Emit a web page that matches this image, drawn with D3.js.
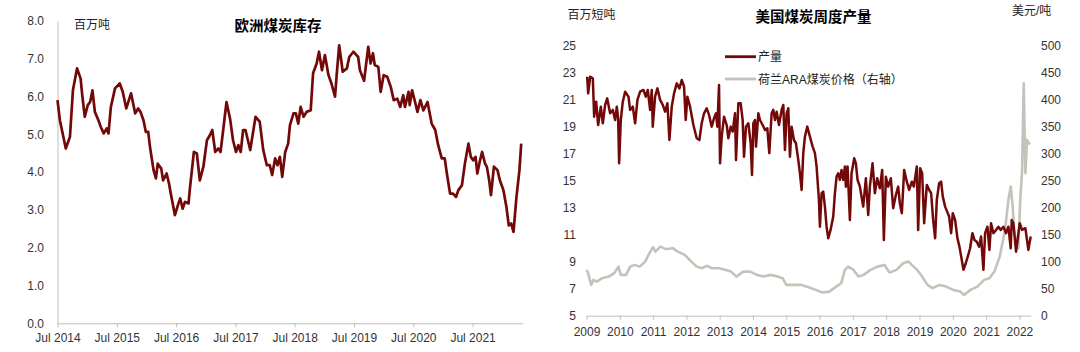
<!DOCTYPE html>
<html>
<head>
<meta charset="utf-8">
<script src="https://cdn.jsdelivr.net/npm/d3@7"></script>
<style>
  body { margin: 0; background: #fff; }
  text { font-family: "Liberation Sans", Arial, "Noto Sans CJK SC", sans-serif; }
</style>
</head>
<body>
<div id="chart"></div>
<script>
// ---------- left: European coal stocks (million t), dates as decimal years ----------
var stockYears = [2014.50,2014.54,2014.64,2014.71,2014.76,2014.83,2014.89,2014.92,2014.96,2015.01,
  2015.05,2015.09,2015.13,2015.19,2015.23,2015.28,2015.33,2015.36,2015.40,2015.47,
  2015.55,2015.60,2015.66,2015.74,2015.81,2015.86,2015.90,2015.95,2015.99,2016.03,
  2016.06,2016.12,2016.16,2016.19,2016.25,2016.28,2016.34,2016.38,2016.41,2016.48,
  2016.54,2016.57,2016.61,2016.65,2016.71,2016.73,2016.80,2016.85,2016.90,2016.96,
  2017.02,2017.07,2017.11,2017.16,2017.21,2017.25,2017.30,2017.35,2017.41,2017.46,
  2017.51,2017.55,2017.59,2017.63,2017.67,2017.75,2017.84,2017.91,2017.97,2018.03,
  2018.08,2018.12,2018.17,2018.21,2018.25,2018.29,2018.34,2018.39,2018.42,2018.48,
  2018.52,2018.56,2018.60,2018.65,2018.70,2018.77,2018.81,2018.87,2018.91,2018.96,
  2019.01,2019.07,2019.12,2019.18,2019.21,2019.25,2019.31,2019.38,2019.42,2019.49,
  2019.57,2019.60,2019.67,2019.74,2019.78,2019.82,2019.85,2019.91,2019.95,2020.00,
  2020.06,2020.12,2020.17,2020.23,2020.28,2020.33,2020.36,2020.42,2020.44,2020.48,
  2020.53,2020.57,2020.62,2020.67,2020.74,2020.81,2020.87,2020.92,2020.98,2021.03,
  2021.07,2021.12,2021.17,2021.22,2021.26,2021.32,2021.37,2021.43,2021.47,2021.51,
  2021.55,2021.58,2021.62,2021.66,2021.71,2021.74,2021.78,2021.81,2021.86,2021.92,
  2021.96,2022.02,2022.07,2022.11,2022.15,2022.19,2022.24,2022.29,2022.32];
var stockValues = [5.90,5.37,4.62,4.93,6.16,6.74,6.47,5.99,5.46,5.77,
  5.85,6.16,5.59,5.37,5.19,5.02,5.15,5.02,5.72,6.21,
  6.34,6.12,5.68,6.08,5.55,5.68,5.59,5.37,5.06,5.06,
  4.66,4.05,3.83,4.22,4.09,3.78,3.96,3.70,3.43,2.86,
  3.17,3.30,3.03,3.21,3.17,3.52,4.53,4.49,3.78,4.14,
  4.84,4.97,5.11,4.53,4.62,4.53,5.19,5.85,5.41,4.84,
  4.53,4.71,4.53,5.11,5.11,4.58,5.46,5.33,4.58,4.18,
  4.18,3.92,4.36,4.18,4.40,3.87,4.53,4.75,5.24,5.55,
  5.55,5.28,5.72,5.46,5.59,5.63,6.61,6.87,7.18,6.69,
  7.09,6.56,6.34,5.99,6.61,7.35,6.65,6.74,7.04,7.18,
  7.04,6.69,6.41,7.31,6.87,7.14,6.83,6.78,6.12,6.56,
  6.52,6.25,5.90,5.94,5.72,6.03,5.72,6.12,5.77,6.16,
  5.85,5.59,5.90,5.63,5.85,5.28,5.11,4.71,4.36,4.36,
  3.92,3.43,3.43,3.34,3.52,3.65,4.22,4.75,4.40,4.31,
  4.40,3.96,4.27,4.53,4.22,4.14,3.78,3.39,4.14,4.05,
  3.78,3.52,3.08,2.59,2.64,2.42,3.34,4.05,4.75];
var stockTickYears = [2014.5,2015.5,2016.5,2017.5,2018.5,2019.5,2020.5,2021.5];
var stockTickLabels = ["Jul 2014","Jul 2015","Jul 2016","Jul 2017","Jul 2018","Jul 2019","Jul 2020","Jul 2021"];
var stockYTicks = [0,1,2,3,4,5,6,7,8];

// ---------- right: US weekly coal output (million short t) and ARA price (USD/t) ----------
var prodYears = [2009.02,2009.05,2009.11,2009.19,2009.23,2009.29,2009.35,2009.43,2009.49,2009.56,
  2009.62,2009.71,2009.79,2009.86,2009.91,2009.95,2009.98,2010.03,2010.09,2010.16,
  2010.26,2010.31,2010.39,2010.46,2010.53,2010.61,2010.71,2010.78,2010.84,2010.91,
  2010.96,2010.99,2011.06,2011.13,2011.21,2011.29,2011.36,2011.43,2011.49,2011.56,
  2011.63,2011.71,2011.79,2011.86,2011.93,2011.98,2012.03,2012.11,2012.21,2012.31,
  2012.39,2012.46,2012.53,2012.61,2012.68,2012.76,2012.83,2012.89,2012.93,2012.98,
  2013.01,2013.06,2013.13,2013.21,2013.26,2013.33,2013.39,2013.46,2013.49,2013.56,
  2013.63,2013.69,2013.73,2013.79,2013.86,2013.93,2013.97,2014.01,2014.06,2014.09,
  2014.16,2014.21,2014.29,2014.36,2014.43,2014.49,2014.56,2014.61,2014.66,2014.71,
  2014.78,2014.86,2014.91,2014.96,2015.01,2015.06,2015.11,2015.16,2015.23,2015.29,
  2015.36,2015.41,2015.46,2015.51,2015.56,2015.63,2015.71,2015.79,2015.86,2015.91,
  2015.98,2016.01,2016.06,2016.11,2016.16,2016.21,2016.26,2016.33,2016.41,2016.46,
  2016.51,2016.56,2016.61,2016.66,2016.71,2016.76,2016.79,2016.84,2016.91,2016.96,
  2017.04,2017.09,2017.14,2017.21,2017.31,2017.39,2017.46,2017.51,2017.59,2017.66,
  2017.73,2017.81,2017.88,2017.93,2017.99,2018.06,2018.14,2018.21,2018.29,2018.36,
  2018.41,2018.47,2018.54,2018.62,2018.69,2018.77,2018.83,2018.92,2018.96,2019.02,
  2019.08,2019.14,2019.22,2019.29,2019.35,2019.41,2019.47,2019.52,2019.59,2019.65,
  2019.70,2019.77,2019.83,2019.89,2019.95,2020.00,2020.07,2020.14,2020.20,2020.27,
  2020.32,2020.39,2020.45,2020.52,2020.59,2020.65,2020.72,2020.79,2020.85,2020.92,
  2020.97,2021.04,2021.10,2021.15,2021.22,2021.30,2021.37,2021.44,2021.52,2021.60,
  2021.67,2021.74,2021.77,2021.82,2021.90,2022.01,2022.08,2022.18,2022.27,2022.34];
var prodValues = [22.72,21.49,22.72,22.60,19.76,20.87,19.14,20.50,19.27,20.63,
  21.12,20.01,20.26,19.51,20.50,19.64,16.30,19.51,20.87,21.61,
  21.24,20.26,20.50,19.27,21.00,21.61,21.74,21.24,21.74,20.26,
  21.74,19.02,21.24,21.86,21.00,20.63,20.13,20.75,18.03,20.50,
  21.49,22.23,21.86,22.48,21.98,19.51,21.24,20.50,19.14,18.16,
  18.03,19.27,20.01,20.38,19.89,19.02,19.64,20.01,19.02,22.11,
  16.30,18.28,19.76,19.14,18.16,19.02,18.65,20.01,16.55,20.75,
  20.75,19.51,16.79,19.02,19.27,17.79,15.44,19.27,19.51,17.54,
  20.01,19.51,19.14,18.77,18.90,17.05,20.01,20.26,19.51,20.13,
  19.14,20.26,20.63,17.29,20.01,20.38,16.79,19.02,18.03,17.79,
  16.55,15.56,14.33,17.05,18.28,19.02,18.28,17.54,17.05,16.06,
  13.58,11.60,14.08,14.20,13.09,11.60,10.74,11.36,12.35,14.08,
  15.31,15.56,15.07,15.81,15.07,16.06,14.57,16.06,12.10,15.56,
  16.67,16.30,15.07,14.57,13.09,15.19,12.47,14.57,16.30,14.08,
  15.19,14.45,15.81,10.62,15.31,14.57,15.19,12.97,13.95,14.57,
  13.34,12.60,15.81,14.94,14.33,14.94,14.57,16.06,11.36,15.93,
  15.56,11.86,14.70,14.33,14.08,12.10,10.74,13.58,14.82,14.94,
  13.83,13.09,12.72,12.35,11.12,12.60,12.10,10.74,10.12,9.14,
  8.40,8.89,9.38,10.00,11.12,10.62,10.49,10.12,10.87,8.40,
  11.12,11.60,9.88,11.86,11.12,11.36,11.60,11.36,11.60,11.12,
  11.60,10.00,12.10,11.86,9.75,11.86,11.36,11.49,9.88,10.87];
var priceYears = [2009.00,2009.05,2009.14,2009.21,2009.31,2009.47,2009.67,2009.83,2009.96,2010.03,
  2010.19,2010.31,2010.45,2010.60,2010.76,2010.89,2011.00,2011.07,2011.22,2011.38,
  2011.59,2011.74,2011.95,2012.15,2012.31,2012.46,2012.62,2012.77,2012.98,2013.19,
  2013.34,2013.50,2013.71,2013.91,2014.12,2014.32,2014.53,2014.74,2014.89,2015.00,
  2015.20,2015.46,2015.67,2015.88,2016.08,2016.29,2016.50,2016.65,2016.76,2016.86,
  2017.02,2017.17,2017.32,2017.53,2017.74,2017.95,2018.10,2018.31,2018.51,2018.67,
  2018.77,2018.93,2019.08,2019.24,2019.39,2019.60,2019.80,2020.01,2020.22,2020.34,
  2020.53,2020.74,2020.94,2021.10,2021.25,2021.41,2021.57,2021.67,2021.74,2021.80,
  2021.84,2021.92,2021.97,2022.03,2022.08,2022.13,2022.18,2022.23,2022.28,2022.32];
var priceValues = [84.9,78.8,57.0,66.4,63.3,69.5,72.5,78.8,91.0,75.7,
  75.7,91.0,94.2,91.0,100.3,115.9,127.0,118.9,128.1,123.3,
  125.2,118.9,112.7,100.3,91.0,88.0,92.3,88.0,88.0,84.9,
  81.8,72.5,81.8,81.8,75.7,72.5,75.7,72.5,69.5,57.1,
  57.1,57.1,52.9,47.9,42.9,44.7,54.0,60.3,84.9,91.0,
  84.9,72.5,75.7,84.9,91.0,94.2,80.0,84.9,97.3,100.3,
  94.2,84.9,72.5,57.1,51.0,57.1,54.0,47.9,44.7,38.6,
  47.9,54.0,66.4,69.5,81.8,109.6,159.1,214.6,239.3,202.2,
  159.1,130.0,125.0,220.0,265.0,431.0,264.0,326.0,320.0,318.0];
var prodTickYears = [2009,2010,2011,2012,2013,2014,2015,2016,2017,2018,2019,2020,2021,2022];
var prodYTicks = [5,7,9,11,13,15,17,19,21,23,25];
var priceYTicks = [0,50,100,150,200,250,300,350,400,450,500];

var cfg = {
  red: "#720808",
  grey: "#c3c3b9",
  axis: "#bfbfbf",
  label: "#333333"
};

var svg = d3.select("#chart")
  .append("svg")
  .attr("width", 1080)
  .attr("height", 352)
  .style("background", "#fff");

function styleAxis(g) {
  g.attr("font-family", null).attr("font-size", null);
  g.select(".domain").attr("stroke", cfg.axis);
  g.selectAll(".tick line").attr("stroke", cfg.axis);
  g.selectAll(".tick text").attr("fill", cfg.label).style("font-size", "12px");
}

////////////////////// left chart //////////////////////
var x1 = d3.scaleLinear().domain([2014.5, 2022.345]).range([57.5, 522.7]);
var y1 = d3.scaleLinear().domain([0, 8]).range([323.3, 20.7]);

svg.append("g")
  .attr("transform", "translate(0,323.3)")
  .call(d3.axisBottom(x1)
    .tickValues(stockTickYears)
    .tickFormat(function(d, i) { return stockTickLabels[i]; })
    .tickSizeInner(4).tickSizeOuter(0).tickPadding(6.5))
  .call(styleAxis);

svg.append("g")
  .attr("transform", "translate(57.5,0)")
  .call(d3.axisLeft(y1)
    .tickValues(stockYTicks)
    .tickFormat(d3.format(".1f"))
    .tickSize(0).tickPadding(13.5))
  .call(styleAxis);

svg.append("path")
  .datum(d3.zip(stockYears, stockValues))
  .attr("fill", "none")
  .attr("stroke", cfg.red)
  .attr("stroke-width", 2.7)
  .attr("stroke-linejoin", "round")
  .attr("d", d3.line().x(function(d) { return x1(d[0]); }).y(function(d) { return y1(d[1]); }));

svg.append("text")
  .attr("x", 278).attr("y", 30.5)
  .attr("text-anchor", "middle")
  .attr("font-weight", "bold")
  .style("font-size", "14.5px")
  .text("欧洲煤炭库存");

svg.append("text")
  .attr("x", 74).attr("y", 28.6)
  .attr("fill", "#222")
  .style("font-size", "12px")
  .text("百万吨");

////////////////////// right chart //////////////////////
var x2 = d3.scaleLinear().domain([2009, 2022.34]).range([586.5, 1030.7]);
var y2 = d3.scaleLinear().domain([5, 25]).range([315.7, 46]);
var y3 = d3.scaleLinear().domain([0, 500]).range([315.7, 46]);

svg.append("g")
  .attr("transform", "translate(0,315.7)")
  .call(d3.axisBottom(x2)
    .tickValues(prodTickYears)
    .tickFormat(d3.format("d"))
    .tickSizeInner(4).tickSizeOuter(0).tickPadding(7.5))
  .call(styleAxis);

svg.append("g")
  .attr("transform", "translate(586.5,0)")
  .call(d3.axisLeft(y2).tickValues(prodYTicks).tickSize(0).tickPadding(10.5))
  .call(styleAxis)
  .call(function(g) { g.select(".domain").remove(); });

svg.append("g")
  .attr("transform", "translate(1031,0)")
  .call(d3.axisRight(y3).tickValues(priceYTicks).tickSize(0).tickPadding(10))
  .call(styleAxis)
  .call(function(g) { g.select(".domain").remove(); });

svg.append("path")
  .datum(d3.zip(priceYears, priceValues))
  .attr("fill", "none")
  .attr("stroke", cfg.grey)
  .attr("stroke-width", 2.6)
  .attr("stroke-linejoin", "round")
  .attr("d", d3.line().x(function(d) { return x2(d[0]); }).y(function(d) { return y3(d[1]); }));

svg.append("path")
  .datum(d3.zip(prodYears, prodValues))
  .attr("fill", "none")
  .attr("stroke", cfg.red)
  .attr("stroke-width", 2.5)
  .attr("stroke-linejoin", "round")
  .attr("d", d3.line().x(function(d) { return x2(d[0]); }).y(function(d) { return y2(d[1]); }));

svg.append("text")
  .attr("x", 813.5).attr("y", 22.2)
  .attr("text-anchor", "middle")
  .attr("font-weight", "bold")
  .style("font-size", "14.5px")
  .text("美国煤炭周度产量");

svg.append("text")
  .attr("x", 567.5).attr("y", 18.6)
  .attr("fill", "#222")
  .style("font-size", "12px")
  .text("百万短吨");

svg.append("text")
  .attr("x", 1012).attr("y", 14.6)
  .attr("fill", "#222")
  .style("font-size", "12px")
  .text("美元/吨");

// legend
var legend = [
  {name: "产量", color: cfg.red, y: 56.7},
  {name: "荷兰ARA煤炭价格（右轴）", color: cfg.grey, y: 79}
];
var lg = svg.append("g").selectAll("g").data(legend).enter().append("g");
lg.append("line")
  .attr("x1", 725).attr("x2", 756)
  .attr("y1", function(d) { return d.y; }).attr("y2", function(d) { return d.y; })
  .attr("stroke", function(d) { return d.color; })
  .attr("stroke-width", 2.8);
lg.append("text")
  .attr("x", 758).attr("y", function(d) { return d.y + 4.5; })
  .attr("fill", "#222")
  .style("font-size", "12px")
  .text(function(d) { return d.name; });
</script>
</body>
</html>
